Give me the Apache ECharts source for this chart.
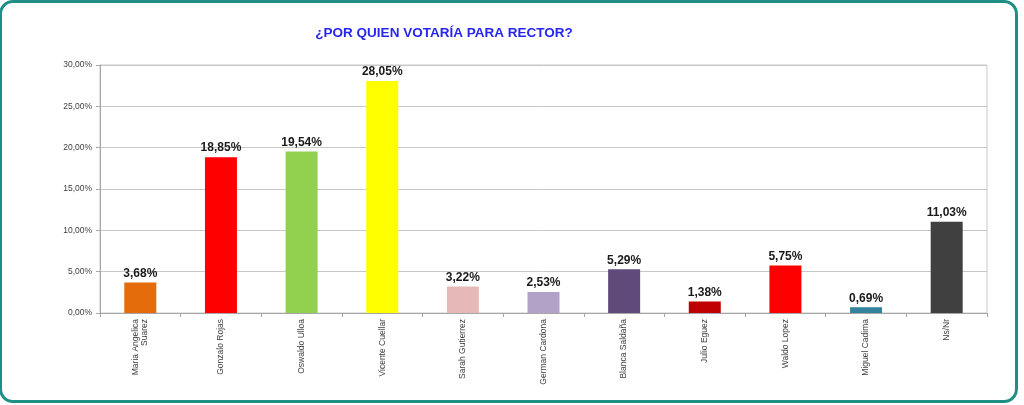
<!DOCTYPE html>
<html lang="es">
<head>
    <meta charset="UTF-8">
    <title>Rector</title>
    <style>
        html, body { margin: 0; padding: 0; background: #fff; }
        #frame { position: absolute; left: -1px; top: 0px; width: 1013px; height: 397px;
                 border: 3px solid #1f8f86; border-radius: 14px; }
        #chart1 { position: absolute; left: 0; top: 0; width: 1024px; height: 405px; }
    </style>
</head>
<body>
<div id="frame"></div>
<div id="chart1"></div>

<script type="text/javascript" src="https://cdn.jsdelivr.net/npm/echarts@6/dist/echarts.min.js"></script>
<script type="text/javascript">
    var candidatos = ['Maria Angelica\nSuarez', 'Gonzalo Rojas', 'Oswaldo Ulloa', 'Vicente Cuellar',
        'Sarah Gutierrez', 'German Cardona', 'Blanca Saldaña', 'Julio Eguez', 'Waldo Lopez',
        'Miguel Cadima', 'Ns/Nr'];
    var votos = [3.68, 18.85, 19.54, 28.05, 3.22, 2.53, 5.29, 1.38, 5.75, 0.69, 11.03];
    var colores = ['#e46c0a', '#ff0000', '#92d050', '#ffff00', '#e6b9b8', '#b3a2c7',
        '#604a7b', '#c00000', '#ff0000', '#31849b', '#404040'];

    function pct(v) {
        return v.toFixed(2).replace('.', ',') + '%';
    }

    var myChart1 = echarts.init(document.getElementById('chart1'));
    myChart1.setOption({
        animation: false,
        title: {
            text: '¿POR QUIEN VOTARÍA PARA RECTOR?',
            left: 439,
            top: 21,
            textAlign: 'center',
            textStyle: {
                color: '#2626f0',
                fontSize: 13.5,
                fontWeight: 'bold',
                fontFamily: 'Liberation Sans'
            }
        },
        grid: {
            left: 100,
            right: 37,
            top: 65,
            bottom: 92,
            show: true,
            borderColor: '#c8c8c8',
            borderWidth: 1
        },
        xAxis: {
            type: 'category',
            data: candidatos,
            axisLine: { lineStyle: { color: '#a6a6a6' } },
            axisTick: { show: true, length: 4, lineStyle: { color: '#a6a6a6' } },
            axisLabel: {
                rotate: 90,
                interval: 0,
                margin: 6,
                fontSize: 8.5,
                lineHeight: 9,
                color: '#404040',
                align: 'right',
                fontFamily: 'Liberation Sans'
            }
        },
        yAxis: {
            type: 'value',
            min: 0,
            max: 30,
            interval: 5,
            axisLine: { show: true, lineStyle: { color: '#a6a6a6' } },
            axisTick: { show: true, length: 4, lineStyle: { color: '#a6a6a6' } },
            splitLine: { lineStyle: { color: '#c8c8c8' } },
            axisLabel: {
                fontSize: 8.5,
                color: '#404040',
                margin: 8,
                fontFamily: 'Liberation Sans',
                formatter: function (v) { return pct(v); }
            }
        },
        series: [
            {
                type: 'bar',
                data: votos,
                barWidth: 32,
                itemStyle: {
                    color: function (p) { return colores[p.dataIndex]; }
                },
                label: {
                    show: true,
                    position: 'top',
                    distance: 3,
                    fontSize: 12,
                    fontWeight: 'bold',
                    color: '#1a1a1a',
                    fontFamily: 'Liberation Sans',
                    formatter: function (p) { return pct(p.value); }
                }
            }
        ]
    });
</script>

</body>
</html>
